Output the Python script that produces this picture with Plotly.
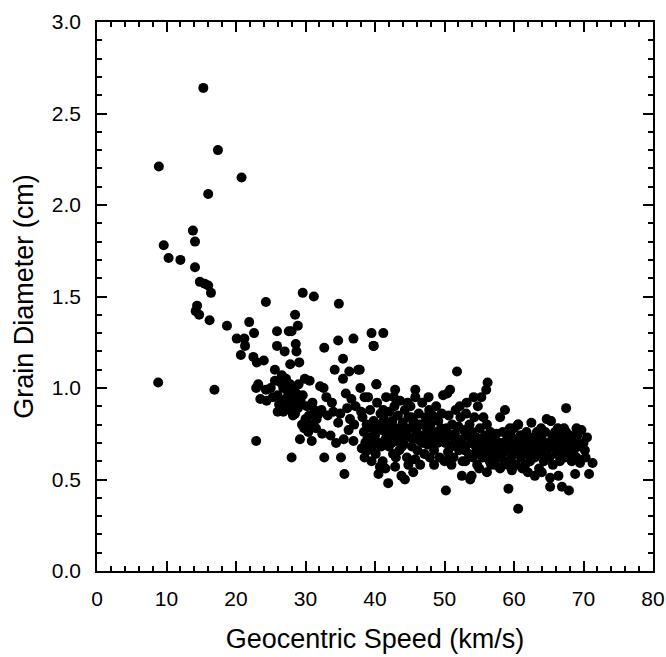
import plotly.graph_objects as go

# Geocentric speed (km/s) and grain diameter (cm)
speed = [
    8.9, 20.8, 16.0, 17.4, 15.3, 9.6, 10.3, 12.0, 13.8, 14.1,
    14.1, 14.8, 15.5, 16.0, 16.4, 24.3, 14.4, 14.2, 14.7, 16.2,
    18.7, 21.9, 20.1, 21.2, 21.3, 22.6, 20.7, 22.5, 23.0, 24.0,
    8.8, 16.9, 22.9, 23.2, 24.3, 23.5, 24.4, 22.9,
    25.9, 25.9, 27.6, 28.0, 29.6, 31.2, 34.8, 28.5, 28.9, 27.0,
    28.6, 28.7, 32.7, 34.7, 36.9, 39.5, 41.2, 39.8, 27.8, 29.1,
    35.4, 34.2, 35.4, 36.3, 37.6, 25.6, 25.6, 26.6, 26.0, 26.0,
    26.4, 26.8, 27.2, 27.5, 27.8, 28.1, 28.4, 28.7, 29.0, 29.3,
    26.9, 27.3, 27.7, 28.2, 28.5, 28.9, 29.6, 29.9, 30.6, 30.2,
    30.5, 30.8, 31.0, 31.3, 31.6, 30.4, 29.8, 29.2, 31.9, 32.1,
    32.6, 33.0, 33.8, 34.0, 34.7, 36.6, 36.0, 36.4, 32.4, 33.6,
    36.9, 26.8, 28.2, 37.9, 40.2, 33.2, 35.0, 35.8, 37.2, 37.0,
    27.4, 28.0, 30.0, 31.5, 32.3, 34.4, 35.5, 36.2, 38.1, 28.0,
    32.7, 35.1, 35.6, 38.0, 38.5, 25.0, 25.3, 26.2, 29.5, 30.9,
    38.2, 38.4, 38.6, 38.8, 39.0, 39.1, 39.3, 39.5, 39.6, 39.8,
    40.0, 40.1, 40.3, 40.5, 40.6, 40.8, 41.0, 41.1, 41.3, 41.5,
    41.6, 41.8, 42.0, 42.1, 42.3, 42.5, 42.6, 42.8, 43.0, 43.1,
    43.3, 43.5, 43.6, 43.8, 44.0, 44.1, 44.3, 44.5, 44.6, 44.8,
    45.0, 45.1, 45.3, 45.5, 45.6, 45.8, 46.0, 46.1, 46.3, 46.5,
    46.6, 46.8, 47.0, 47.1, 47.3, 47.5, 47.6, 47.8, 48.0, 48.1,
    48.3, 48.5, 48.6, 48.8, 49.0, 49.1, 49.3, 49.5, 49.6, 49.8,
    40.2, 42.9, 45.8, 49.8, 50.4, 50.8, 37.8, 39.8, 39.0, 38.5,
    50.2, 41.9, 40.7, 42.9, 43.8, 44.3, 45.5, 45.8, 47.9, 50.0,
    50.7, 40.5, 41.5, 44.8, 46.5, 39.5, 43.0, 48.5, 38.9, 41.2,
    40.4, 41.7, 42.2, 43.4, 44.2, 45.2, 46.2, 47.2, 48.2, 49.2,
    39.4, 40.9, 42.4, 43.9, 45.4, 46.9, 48.4, 44.7, 42.7, 47.7,
    50.1, 50.3, 50.5, 50.6, 50.8, 51.0, 51.1, 51.3, 51.5, 51.6,
    51.8, 52.0, 52.1, 52.3, 52.5, 52.6, 52.8, 53.0, 53.1, 53.3,
    53.5, 53.6, 53.8, 54.0, 54.1, 54.3, 54.5, 54.6, 54.8, 55.0,
    55.1, 55.3, 55.5, 55.6, 55.8, 56.0, 56.1, 56.3, 56.5, 56.6,
    56.8, 57.0, 57.1, 57.3, 57.5, 57.6, 57.8, 53.2, 54.2, 52.2,
    51.8, 56.2, 56.0, 55.3, 52.5, 53.9, 53.7, 56.1, 55.0, 51.0,
    53.0, 54.7, 56.7, 57.2, 56.4, 55.7, 54.4, 52.9, 51.4, 57.7,
    58.0, 58.7, 58.1, 58.3, 58.4, 58.6, 58.8, 59.0, 59.1, 59.3,
    59.5, 59.6, 59.8, 60.0, 60.1, 60.3, 60.5, 60.6, 60.8, 61.0,
    61.1, 61.3, 61.5, 61.6, 61.8, 62.0, 62.1, 62.3, 62.5, 62.6,
    62.8, 63.0, 63.1, 63.3, 63.5, 63.6, 63.8, 64.0, 64.1, 64.3,
    64.5, 64.7, 64.8, 65.0, 65.1, 65.3, 65.5, 65.6, 65.8, 66.0,
    66.1, 66.3, 66.5, 66.6, 66.8, 67.0, 67.1, 67.3, 67.5, 67.6,
    67.8, 68.0, 68.1, 68.3, 68.5, 68.6, 68.8, 69.0, 69.1, 69.3,
    69.5, 69.7, 70.5, 70.0, 70.2, 70.8, 71.3, 68.8, 67.9, 66.9,
    65.2, 65.2, 60.6, 59.2, 67.5, 65.3, 60.6, 58.0, 62.0, 63.0,
    64.0, 66.4, 61.2, 59.7, 60.9, 62.9, 64.6, 66.7, 68.4, 70.3,
    59.4, 61.9, 63.9, 65.9, 67.2, 69.0, 60.2, 62.4, 64.4, 66.2,
]
diameter = [
    2.21, 2.15, 2.06, 2.30, 2.64, 1.78, 1.71, 1.70, 1.86, 1.80,
    1.66, 1.58, 1.57, 1.56, 1.52, 1.47, 1.45, 1.42, 1.40, 1.37,
    1.34, 1.36, 1.27, 1.27, 1.23, 1.30, 1.18, 1.17, 1.14, 1.15,
    1.03, 0.99, 1.00, 1.02, 0.99, 0.94, 0.93, 0.71,
    1.31, 1.23, 1.31, 1.31, 1.52, 1.50, 1.46, 1.40, 1.34, 1.20,
    1.24, 1.20, 1.22, 1.26, 1.27, 1.30, 1.30, 1.23, 1.13, 1.14,
    1.16, 1.10, 1.05, 1.09, 1.10, 1.10, 1.04, 1.07, 0.96, 0.87,
    1.03, 1.00, 1.05, 0.98, 1.02, 0.95, 1.00, 0.97, 1.02, 0.93,
    0.93, 0.90, 0.88, 0.90, 0.86, 0.89, 0.96, 1.05, 1.04, 0.90,
    0.85, 0.80, 0.92, 0.88, 0.83, 0.76, 0.78, 0.72, 0.86, 1.01,
    1.00, 0.95, 0.92, 0.87, 0.81, 0.94, 0.89, 0.83, 0.75, 0.74,
    0.71, 0.87, 0.85, 1.00, 1.02, 0.85, 0.86, 0.97, 0.90, 0.80,
    0.95, 0.93, 0.83, 0.78, 0.88, 0.70, 0.72, 0.77, 0.67, 0.62,
    0.62, 0.62, 0.53, 0.87, 0.95, 1.00, 0.95, 0.91, 0.80, 0.71,
    0.84, 0.76, 0.70, 0.80, 0.66, 0.73, 0.88, 0.78, 0.68, 0.82,
    0.74, 0.64, 0.92, 0.80, 0.70, 0.86, 0.77, 0.60, 0.83, 0.72,
    0.95, 0.79, 0.68, 0.87, 0.75, 0.82, 0.64, 0.90, 0.78, 0.71,
    0.85, 0.66, 0.93, 0.76, 0.81, 0.70, 0.88, 0.74, 0.62, 0.84,
    0.78, 0.90, 0.68, 0.82, 0.73, 0.95, 0.76, 0.66, 0.86, 0.71,
    0.80, 0.92, 0.74, 0.64, 0.84, 0.77, 0.69, 0.88, 0.80, 0.72,
    0.85, 0.66, 0.76, 0.90, 0.70, 0.82, 0.62, 0.78, 0.86, 0.74,
    1.02, 0.99, 0.99, 0.96, 0.97, 0.99, 1.10, 1.23, 0.95, 0.62,
    0.44, 0.48, 0.57, 0.57, 0.52, 0.50, 0.54, 0.61, 0.62, 0.60,
    0.62, 0.53, 0.56, 0.58, 0.58, 0.60, 0.62, 0.58, 0.72, 0.88,
    0.78, 0.74, 0.80, 0.74, 0.77, 0.84, 0.80, 0.80, 0.76, 0.74,
    0.70, 0.68, 0.70, 0.68, 0.72, 0.70, 0.70, 0.92, 0.95, 0.95,
    0.70, 0.78, 0.65, 0.85, 0.74, 0.68, 0.80, 0.62, 0.75, 0.88,
    0.70, 0.79, 0.66, 0.84, 0.72, 0.60, 0.77, 0.68, 0.86, 0.74,
    0.64, 0.80, 0.70, 0.76, 0.62, 0.84, 0.68, 0.73, 0.90, 0.66,
    0.78, 0.70, 0.62, 0.84, 0.74, 0.66, 0.80, 0.70, 0.60, 0.76,
    0.64, 0.72, 0.68, 0.58, 0.75, 0.62, 0.70, 0.92, 0.95, 0.90,
    1.09, 1.03, 0.99, 0.95, 0.52, 0.52, 0.50, 0.54, 0.56, 0.58,
    0.60, 0.58, 0.58, 0.62, 0.65, 0.68, 0.64, 0.66, 0.72, 0.66,
    0.84, 0.88, 0.70, 0.64, 0.76, 0.60, 0.68, 0.72, 0.58, 0.66,
    0.74, 0.62, 0.70, 0.78, 0.65, 0.58, 0.72, 0.80, 0.68, 0.62,
    0.74, 0.66, 0.70, 0.58, 0.76, 0.64, 0.70, 0.60, 0.81, 0.68,
    0.73, 0.62, 0.66, 0.76, 0.70, 0.56, 0.64, 0.72, 0.68, 0.60,
    0.76, 0.83, 0.66, 0.70, 0.62, 0.82, 0.74, 0.58, 0.68, 0.72,
    0.64, 0.78, 0.70, 0.60, 0.74, 0.66, 0.72, 0.62, 0.76, 0.68,
    0.70, 0.64, 0.74, 0.60, 0.72, 0.66, 0.70, 0.62, 0.74, 0.68,
    0.59, 0.77, 0.73, 0.70, 0.66, 0.53, 0.59, 0.53, 0.44, 0.46,
    0.46, 0.51, 0.34, 0.45, 0.89, 0.82, 0.80, 0.56, 0.54, 0.52,
    0.54, 0.52, 0.56, 0.55, 0.74, 0.69, 0.64, 0.68, 0.68, 0.62,
    0.78, 0.72, 0.78, 0.76, 0.78, 0.78, 0.68, 0.66, 0.70, 0.68,
]

x_title = "Geocentric Speed (km/s)"
y_title = "Grain Diameter (cm)"

FONT = "Liberation Sans, Arial, sans-serif"

fig = go.Figure(
    go.Scatter(
        x=speed, y=diameter, mode="markers",
        marker=dict(size=10, color="black", line=dict(width=0)),
        hoverinfo="x+y",
    )
)

axis_common = dict(
    showline=True, linecolor="black", linewidth=1.5, mirror="ticks",
    ticks="inside", ticklen=10, tickwidth=1.5, tickcolor="black",
    showgrid=False, zeroline=False, automargin=False,
    tickfont=dict(family=FONT, size=21, color="black"),
)

fig.update_xaxes(
    range=[0, 80], dtick=10, tick0=0, ticklabelstandoff=8,
    minor=dict(dtick=2, ticks="inside", ticklen=5, tickwidth=1.5, tickcolor="black"),
    title=dict(text=x_title, standoff=20, font=dict(family=FONT, size=27, color="black")),
    **axis_common,
)
fig.update_yaxes(
    range=[0, 3.0], dtick=0.5, tick0=0, tickformat=".1f", ticklabelstandoff=10,
    minor=dict(dtick=0.1, ticks="inside", ticklen=5, tickwidth=1.5, tickcolor="black"),
    title=dict(text=y_title, standoff=10, font=dict(family=FONT, size=27, color="black")),
    **axis_common,
)

fig.update_layout(
    width=666, height=657,
    margin=dict(l=97, r=13, t=22, b=86),
    paper_bgcolor="white", plot_bgcolor="white",
    showlegend=False,
)

fig.write_html("out.html")
